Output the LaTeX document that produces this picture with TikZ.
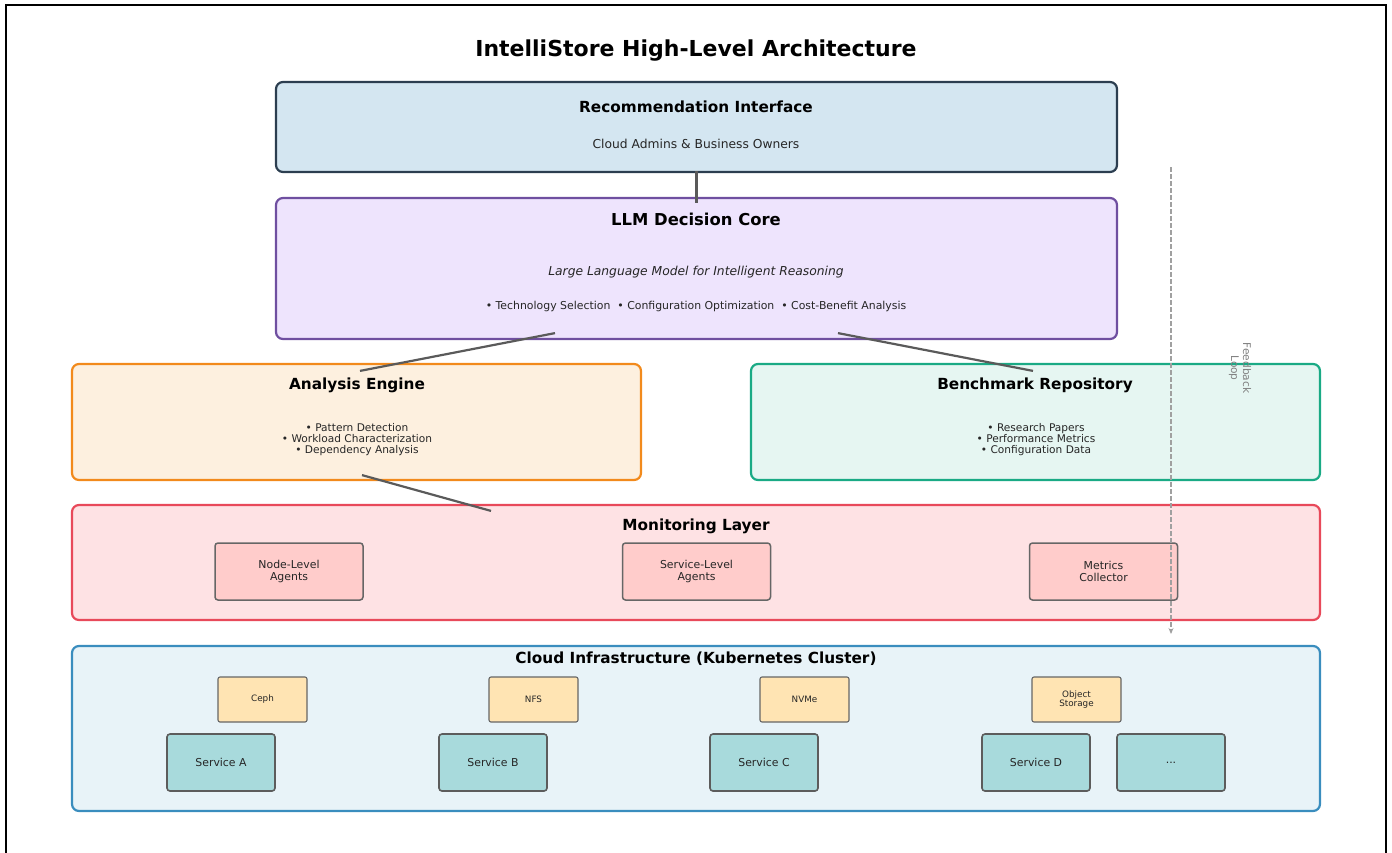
\documentclass[tikz,border=0pt]{standalone}
\usepackage{fontspec}
\setmainfont{DejaVu Sans}
\usepackage{xcolor}
\usepackage{tikz}
\usetikzlibrary{positioning,calc,arrows.meta}

\definecolor{recline}{HTML}{2C3E50}
\definecolor{recfill}{HTML}{D4E6F1}
\definecolor{llmline}{HTML}{6F4FA0}
\definecolor{llmfill}{HTML}{EEE4FD}
\definecolor{anaLine}{HTML}{F28A1C}
\definecolor{anaFill}{HTML}{FDF0DF}
\definecolor{benchline}{HTML}{1AAA85}
\definecolor{benchfill}{HTML}{E6F6F2}
\definecolor{monline}{HTML}{E8495A}
\definecolor{monfill}{HTML}{FEE2E4}
\definecolor{agentfill}{HTML}{FFCCCB}
\definecolor{cloudline}{HTML}{3A8DBE}
\definecolor{cloudfill}{HTML}{E8F3F8}
\definecolor{storefill}{HTML}{FFE4B3}
\definecolor{svcfill}{HTML}{A8DADC}
\definecolor{boxgrey}{HTML}{666666}
\definecolor{linkgrey}{HTML}{5A5A5A}
\definecolor{loopgrey}{HTML}{A0A0A0}

\begin{document}
\begin{tikzpicture}[x=1pt,y=-1pt,
    layer/.style={draw, line width=2.2pt, rounded corners=7pt, inner sep=0pt},
    agentbox/.style={draw=boxgrey, fill=agentfill, line width=1.5pt, rounded corners=3pt,
        minimum width=148pt, minimum height=57pt, align=center,
        font=\fontsize{10.9}{12}\selectfont, text=black!85},
    storebox/.style={draw=boxgrey, fill=storefill, line width=1.1pt, rounded corners=2pt,
        minimum width=89pt, minimum height=45pt, align=center,
        font=\fontsize{8.8}{9.8}\selectfont, text=black!85},
    svcbox/.style={draw=boxgrey!90!black, fill=svcfill, line width=1.6pt, rounded corners=3pt,
        minimum width=108pt, minimum height=57pt, align=center,
        font=\fontsize{10.9}{12}\selectfont, text=black!85},
    headtext/.style={font=\fontsize{15.3}{18}\bfseries\selectfont},
    subtext/.style={font=\fontsize{12.3}{14}\selectfont, text=black!85},
    listtext/.style={font=\fontsize{10.6}{11}\selectfont, align=center, text=black!85},
    link/.style={draw=linkgrey, line width=2.2pt}
  ]
    \useasboundingbox (0,0) rectangle (1392,852);

    % Frame
    \draw[line width=2.6pt] (6,870) -- (6,5) -- (1386,5) -- (1386,870);

    % Title
    \node[font=\fontsize{22}{26}\bfseries\selectfont] (title) at (696,51) {IntelliStore High-Level Architecture};

    % Recommendation interface
    \node[layer, draw=recline, fill=recfill, minimum width=841pt, minimum height=90pt] (rec) at (696.5,127) {};
    \node[headtext] (rechead) at (696,107) {Recommendation Interface};
    \node[subtext] (recsub) at (696,144) {Cloud Admins \& Business Owners};

    % LLM decision core
    \node[layer, draw=llmline, fill=llmfill, minimum width=841pt, minimum height=141pt] (llm) at (696.5,268.5) {};
    \node[headtext, font=\fontsize{16.4}{19}\bfseries\selectfont] (llmhead) at (696,219) {LLM Decision Core};
    \node[subtext, font=\fontsize{12.3}{14}\itshape\selectfont] (llmsub) at (696,272) {Large Language Model for Intelligent Reasoning};
    \node[listtext, font=\fontsize{10.9}{12}\selectfont] (llmlist) at (696,306) {• Technology Selection\ \ • Configuration Optimization\ \ • Cost-Benefit Analysis};

    % Analysis engine and benchmark repository
    \node[layer, draw=anaLine, fill=anaFill, minimum width=569pt, minimum height=116pt] (ana) at (356.5,422) {};
    \node[headtext] (anahead) at (357,385) {Analysis Engine};
    \node[listtext] (analist) at (357,440) {• Pattern Detection\\• Workload Characterization\\• Dependency Analysis};

    \node[layer, draw=benchline, fill=benchfill, minimum width=569pt, minimum height=116pt] (bench) at (1035.5,422) {};
    \node[headtext] (benchhead) at (1035,385) {Benchmark Repository};
    \node[listtext] (benchlist) at (1036,440) {• Research Papers\\• Performance Metrics\\• Configuration Data};

    % Monitoring layer
    \node[layer, draw=monline, fill=monfill, minimum width=1248pt, minimum height=115pt] (mon) at (696,562.5) {};
    \node[headtext] (monhead) at (696,526) {Monitoring Layer};
    \node[agentbox] (nodeag) at (289,571.5) {Node-Level\\Agents};
    \node[agentbox] (svcag) at (696.5,571.5) {Service-Level\\Agents};
    \node[agentbox] (metrics) at (1103.5,571.5) {Metrics\\Collector};

    % Cloud infrastructure
    \node[layer, draw=cloudline, fill=cloudfill, minimum width=1248pt, minimum height=165pt] (cloud) at (696,728.5) {};
    \node[headtext] (cloudhead) at (696,659) {Cloud Infrastructure (Kubernetes Cluster)};
    \node[storebox] (ceph) at (262.5,699.5) {Ceph};
    \node[storebox] (nfs) at (533.5,699.5) {NFS};
    \node[storebox] (nvme) at (804.5,699.5) {NVMe};
    \node[storebox] (objstore) at (1076.5,699.5) {Object\\Storage};
    \node[svcbox] (svca) at (221,762.5) {Service A};
    \node[svcbox] (svcb) at (493,762.5) {Service B};
    \node[svcbox] (svcc) at (764,762.5) {Service C};
    \node[svcbox] (svcd) at (1036,762.5) {Service D};
    \node[svcbox] (svcmore) at (1171,762.5) {...};

    % Connections
    \draw[link] ($(rec.south)+(0,-2)$) -- ($(llm.north)+(0,6)$);
    \draw[link] ($(llm.south)+(-141.5,-7)$) -- ($(ana.north)+(3.5,8)$);
    \draw[link] ($(llm.south)+(141.5,-7)$) -- ($(bench.north)+(-2.5,8)$);
    \draw[link] ($(ana.south)+(5.5,-6)$) -- ($(mon.north)+(-205,7)$);

    % Feedback loop
    \coordinate (fbtop) at (1171,167);
    \coordinate (fbend) at (1171,634);
    \draw[loopgrey, line width=1.5pt, dash pattern=on 5pt off 2pt, -{Stealth[length=6pt,width=5pt]}] (fbtop) -- (fbend);
    \node[rotate=-90, align=center, text=black!50, font=\fontsize{10.6}{12}\selectfont] (fblabel) at (1240,368) {Feedback\\Loop};
\end{tikzpicture}
\end{document}
